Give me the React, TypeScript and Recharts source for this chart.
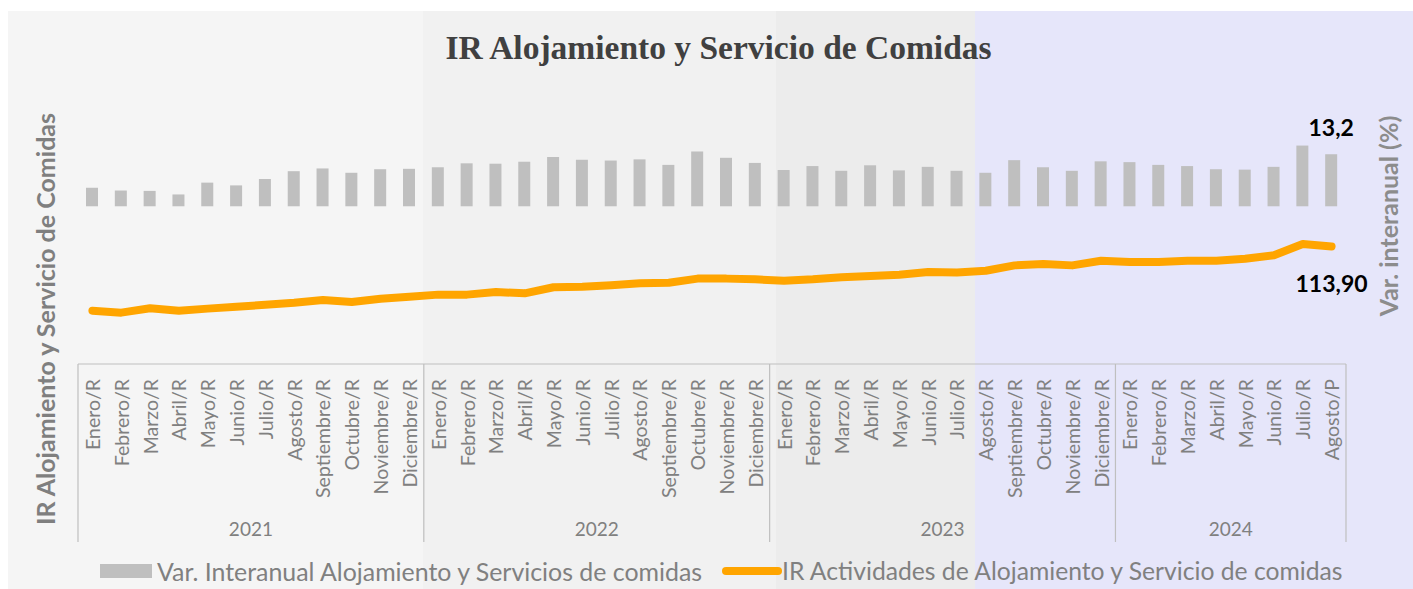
import { ComposedChart, Bar, Line, XAxis, YAxis, LabelList } from 'recharts';

// categorias (meses) y años
const meses = [
  'Enero/R', 'Febrero/R', 'Marzo/R', 'Abril/R', 'Mayo/R', 'Junio/R', 'Julio/R', 'Agosto/R', 'Septiembre/R', 'Octubre/R', 'Noviembre/R', 'Diciembre/R',
  'Enero/R', 'Febrero/R', 'Marzo/R', 'Abril/R', 'Mayo/R', 'Junio/R', 'Julio/R', 'Agosto/R', 'Septiembre/R', 'Octubre/R', 'Noviembre/R', 'Diciembre/R',
  'Enero/R', 'Febrero/R', 'Marzo/R', 'Abril/R', 'Mayo/R', 'Junio/R', 'Julio/R', 'Agosto/R', 'Septiembre/R', 'Octubre/R', 'Noviembre/R', 'Diciembre/R',
  'Enero/R', 'Febrero/R', 'Marzo/R', 'Abril/R', 'Mayo/R', 'Junio/R', 'Julio/R', 'Agosto/P',
];
const anios = ['2021', '2022', '2023', '2024'];
const mesesPorAnio = [12, 12, 12, 8];

// Var. interanual (%)
const varInteranual = [
  4.7, 4.0, 3.9, 3.0, 6.0, 5.3, 6.9, 8.9, 9.6, 8.5, 9.4, 9.5,
  9.9, 10.9, 10.8, 11.3, 12.5, 11.8, 11.6, 11.9, 10.5, 13.9, 12.3, 11.0,
  9.2, 10.2, 9.0, 10.4, 9.1, 10.0, 9.0, 8.5, 11.7, 9.9, 9.0, 11.4,
  11.2, 10.5, 10.2, 9.4, 9.3, 10.0, 15.4, 13.2,
];

// IR Actividades de Alojamiento y Servicio de comidas
const irIndice = [
  79.0, 77.9, 80.3, 79.0, 80.1, 81.1, 82.2, 83.3, 84.8, 83.7, 85.5, 86.6,
  87.7, 87.7, 89.1, 88.4, 91.7, 92.0, 92.8, 93.9, 94.2, 96.4, 96.4, 96.0,
  95.3, 96.0, 97.1, 97.8, 98.5, 100.0, 99.7, 100.7, 103.6, 104.3, 103.6, 106.1,
  105.4, 105.4, 106.1, 106.1, 107.2, 109.1, 115.2, 113.9,
];

const data = meses.map((mes, i) => ({
  idx: i,
  mes,
  varia: varInteranual[i],
  ir: irIndice[i],
}));

const yearStarts: number[] = [];
mesesPorAnio.reduce((acc, n) => {
  yearStarts.push(acc);
  return acc + n;
}, 0);

const GRIS = '#808080';
const LINEA_EJE = '#bfbfbf';
const FUENTE = 'Lato, "Open Sans", sans-serif';

const MonthTick = (props: any) => {
  const { x, y, payload, index } = props;
  const half = payload.offset ?? 14.4;
  const yearIdx = yearStarts.indexOf(index);
  const last = index === meses.length - 1;
  return (
    <g>
      <text
        transform={`translate(${x},${y + 15}) rotate(-90)`}
        textAnchor="end"
        dominantBaseline="central"
        fill={GRIS}
        fontSize={19.5}
        fontFamily={FUENTE}
      >
        {meses[index]}
      </text>
      {yearIdx >= 0 && (
        <g>
          <line x1={x - half} x2={x - half} y1={y} y2={y + 178} stroke={LINEA_EJE} strokeWidth={1.2} />
          <text
            x={x - half + mesesPorAnio[yearIdx] * half}
            y={y + 164}
            textAnchor="middle"
            dominantBaseline="central"
            fill={GRIS}
            fontSize={19}
            fontFamily={FUENTE}
          >
            {anios[yearIdx]}
          </text>
        </g>
      )}
      {last && <line x1={x + half} x2={x + half} y1={y} y2={y + 178} stroke={LINEA_EJE} strokeWidth={1.2} />}
    </g>
  );
};

const BarLabel = (props: any) => {
  const { x, y, width, value, index } = props;
  if (index !== meses.length - 1) return null;
  return (
    <text x={x + width / 2} y={y - 27} textAnchor="middle" dominantBaseline="central" fontSize={23} fontWeight="bold" fill="#000" fontFamily={FUENTE}>
      {Number(value).toFixed(1).replace('.', ',')}
    </text>
  );
};

const LineLabel = (props: any) => {
  const { x, y, value, index } = props;
  if (index !== meses.length - 1) return null;
  return (
    <text x={x} y={y + 37} textAnchor="middle" dominantBaseline="central" fontSize={23} fontWeight="bold" fill="#000" fontFamily={FUENTE}>
      {Number(value).toFixed(2).replace('.', ',')}
    </text>
  );
};

const bandas = [
  { left: 0, width: 415, color: '#f5f5f5' },
  { left: 415, width: 353, color: '#f1f1f1' },
  { left: 768, width: 199, color: '#ececec' },
  { left: 967, width: 438, color: '#e6e6fa' },
];

export default function App() {
  return (
    <div style={{ position: 'absolute', left: 8, top: 11, width: 1405, height: 578, fontFamily: FUENTE }}>
      {bandas.map((b, i) => (
        <div key={i} style={{ position: 'absolute', left: b.left, top: 0, width: b.width, height: 578, background: b.color }} />
      ))}

      <div
        style={{
          position: 'absolute', left: 0, width: 1421, top: 18, textAlign: 'center',
          fontFamily: '"Liberation Serif", serif', fontWeight: 'bold', fontSize: 33.5, color: '#404040',
        }}
      >
        IR Alojamiento y Servicio de Comidas
      </div>

      <div
        style={{
          position: 'absolute', left: 37, top: 308, transform: 'translate(-50%, -50%) rotate(-90deg)',
          whiteSpace: 'nowrap', fontWeight: 'bold', fontSize: 25, color: '#7f7f7f',
        }}
      >
        IR Alojamiento y Servicio de Comidas
      </div>
      <div
        style={{
          position: 'absolute', left: 1380, top: 205, transform: 'translate(-50%, -50%) rotate(-90deg)',
          whiteSpace: 'nowrap', fontWeight: 'bold', fontSize: 25, color: '#8c8c8c',
        }}
      >
        Var. interanual (%)
      </div>

      <div style={{ position: 'absolute', left: 0, top: 0 }}>
        <ComposedChart width={1405} height={578} data={data} margin={{ top: 77, right: 67, bottom: 45, left: 70 }}>
          <XAxis
            dataKey="idx"
            type="category"
            interval={0}
            height={180}
            tickSize={0}
            tickMargin={0}
            tickLine={false}
            axisLine={{ stroke: LINEA_EJE, strokeWidth: 1.2 }}
            tick={<MonthTick />}
          />
          <YAxis yAxisId="left" domain={[50, 200]} hide />
          <YAxis yAxisId="right" orientation="right" domain={[-40, 30]} hide />
          <Bar yAxisId="right" dataKey="varia" fill="#bfbfbf" barSize={12} isAnimationActive={false}>
            <LabelList dataKey="varia" content={<BarLabel />} />
          </Bar>
          <Line
            yAxisId="left"
            type="linear"
            dataKey="ir"
            stroke="#ffa500"
            strokeWidth={8}
            strokeLinecap="round"
            strokeLinejoin="round"
            dot={false}
            activeDot={false}
            isAnimationActive={false}
          >
            <LabelList dataKey="ir" content={<LineLabel />} />
          </Line>
        </ComposedChart>
      </div>

      <div style={{ position: 'absolute', left: 92, top: 545, display: 'flex', alignItems: 'center', fontSize: 24.9, color: GRIS, whiteSpace: 'nowrap' }}>
        <span style={{ display: 'inline-block', width: 52, height: 14, background: '#bfbfbf', marginRight: 5 }} />
        Var. Interanual Alojamiento y Servicios de comidas
      </div>
      <div style={{ position: 'absolute', left: 714, top: 545, display: 'flex', alignItems: 'center', fontSize: 24.7, color: GRIS, whiteSpace: 'nowrap' }}>
        <span style={{ display: 'inline-block', width: 60, height: 8, borderRadius: 4, background: '#ffa500', marginRight: 0 }} />
        IR Actividades de Alojamiento y Servicio de comidas
      </div>
    </div>
  );
}
